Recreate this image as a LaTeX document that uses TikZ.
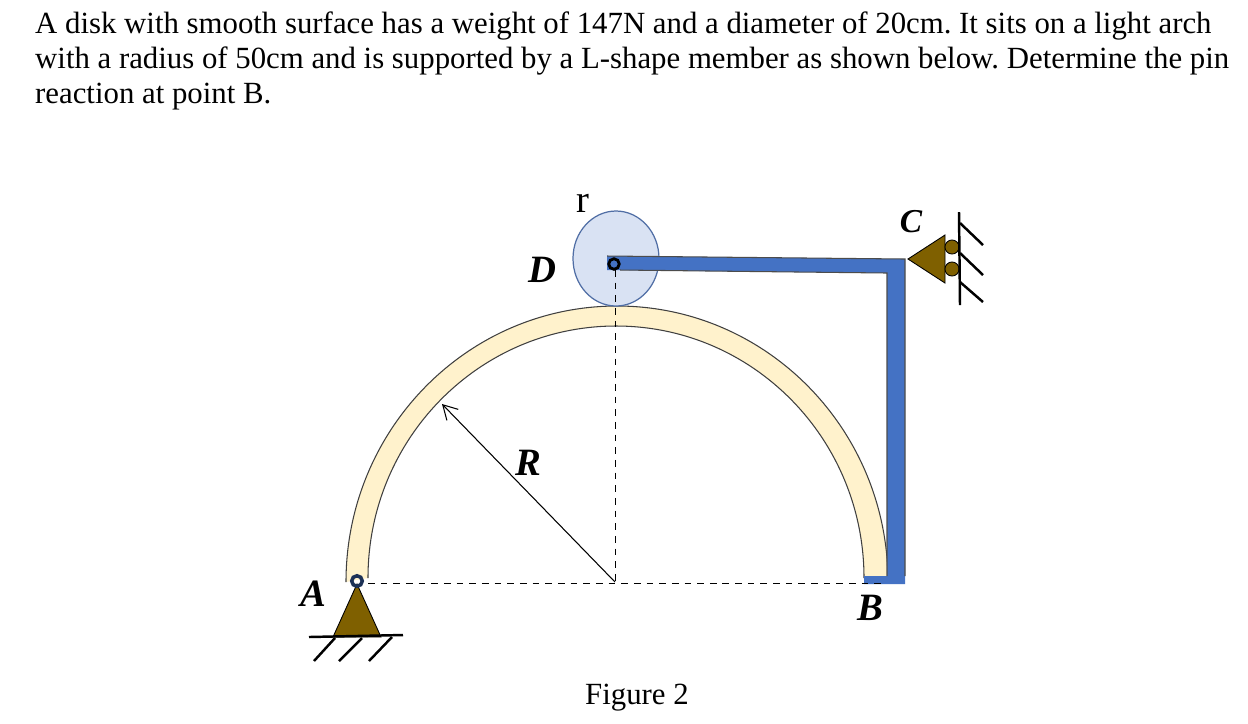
\documentclass[tikz,border=0pt]{standalone}
\usepackage{fontspec}
\setmainfont{Liberation Serif}
\usetikzlibrary{arrows.meta}
\definecolor{archfill}{RGB}{255,242,204}
\definecolor{memberblue}{RGB}{68,114,196}
\definecolor{memberedge}{RGB}{47,82,143}
\definecolor{diskfill}{RGB}{217,226,243}
\definecolor{diskedge}{RGB}{80,110,165}
\definecolor{supportbrown}{RGB}{127,96,0}
\tikzset{
  x=0.01cm,y=-0.01cm,
  bodytext/.style={inner sep=0,anchor=base west,font=\fontsize{8.76pt}{10pt}\selectfont\frenchspacing},
  plainlabel/.style={inner sep=0,font=\fontsize{8.76pt}{10pt}\selectfont},
  pointlabel/.style={inner sep=0,font=\fontsize{11pt}{12pt}\selectfont\bfseries\itshape},
  hatch/.style={black,line width=0.7pt},
  dashline/.style={black,line width=0.25pt,dash pattern=on 1.9pt off 1.7pt},
  support/.style={fill=supportbrown,draw=black,line width=0.25pt},
  pinring/.style={circle,draw=black,line width=0.8pt,inner sep=0,minimum size=3pt}
}
\begin{document}
\begin{tikzpicture}
\useasboundingbox (0,0) rectangle (1248,723);
\fill[white] (0,0) rectangle (1248,723);
% text
\node[bodytext] (l1) at (34.5,33) {A disk with smooth surface has a weight of 147N and a diameter of 20cm. It sits on a light arch};
\node[bodytext] (l2) at (34.5,68) {with a radius of 50cm and is supported by a L-shape member as shown below. Determine the pin};
\node[bodytext] (l3) at (34.5,103) {reaction at point B.};
% arch
\fill[archfill] (346,582) arc[start angle=180,end angle=360,x radius=271,y radius=276] -- (864,578) arc[start angle=360,end angle=180,x radius=248,y radius=252] -- cycle;
\draw[black!75,line width=0.3pt] (346,582) arc[start angle=180,end angle=360,x radius=271,y radius=276];
\draw[black!75,line width=0.3pt] (864,578) arc[start angle=360,end angle=180,x radius=248,y radius=252];
% disk
\coordinate (diskcentre) at (616,258.5);
\draw[fill=diskfill,draw=diskedge,line width=0.35pt] (diskcentre) ellipse[x radius=43,y radius=47.5];
% L member
\fill[memberblue] (607,256) -- (905,259) -- (905,584) -- (864,584) -- (864,576) -- (887,576) -- (887,273) -- (607,270) -- cycle;
\draw[black!70,line width=0.3pt] (607,256) -- (905,259) -- (905,576);
\draw[black!70,line width=0.3pt] (620,270) -- (887,273) -- (887,576);
% dashed lines
\coordinate (o) at (615,582);
\coordinate (dashleft) at (368,583);
\coordinate (dashright) at (885,583);
\coordinate (dashtop) at (615,270);
\draw[dashline] (dashleft) -- (dashright);
\draw[dashline] (dashtop) -- (o);
% radius arrow
\coordinate (archpoint) at (442,404);
\draw[black,line width=0.3pt,-{Straight Barb[length=4pt,width=4.5pt]}] (o) -- (archpoint);
% pin D
\node[pinring,fill=memberblue] (pinD) at (614,264) {};
% support A
\draw[support] (357,584) -- (381,637) -- (333,637) -- cycle;
\node[pinring,draw=memberedge!60!black,line width=1pt] (pinA) at (357,581) {};
\coordinate (ga) at (309,637);
\coordinate (gb) at (403,635);
\draw[hatch] (ga) -- (gb);
\draw[hatch] (335,638) -- (314,661);
\draw[hatch] (362,638) -- (339,661);
\draw[hatch] (392,637) -- (369,661);
% support C
\draw[support] (908,259) -- (945,235) -- (945,283) -- cycle;
\node[circle,support,minimum size=4pt,inner sep=0] (r1) at (952,247) {};
\node[circle,support,minimum size=4pt,inner sep=0] (r2) at (952,269) {};
\draw[hatch] (959,212) -- (960,305);
\draw[hatch] (960,223) -- (983,245);
\draw[hatch] (960,253) -- (983,275);
\draw[hatch] (960,282) -- (983,302);
% labels
\node[plainlabel,font=\fontsize{11pt}{12pt}\selectfont] (r) at (583,203) {r};
\node[pointlabel] (D) at (542,270) {D};
\node[pointlabel] (R) at (528,463) {R};
\node[pointlabel] (A) at (313,594) {A};
\node[pointlabel] (B) at (870,608) {B};
\node[pointlabel,font=\fontsize{9.5pt}{12pt}\selectfont\bfseries\itshape] (C) at (911,222) {C};
\node[plainlabel] (fig) at (637,698) {Figure 2};
\end{tikzpicture}
\end{document}
